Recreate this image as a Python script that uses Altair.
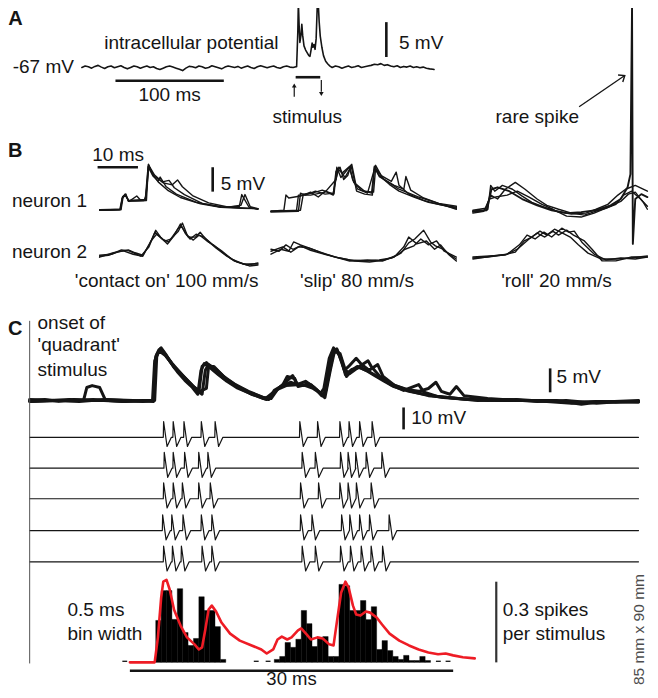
import altair as alt
import pandas as pd

# ======================= DATA =======================
# Panel A: intracellular potential, (time ms, membrane potential mV)
A_TRACE = [
    (0, -67.1), (3, -66.9), (6, -67.0), (9, -67.2), (12, -66.95), (15, -66.8), (18, -67.05), (21, -67.25),
    (24, -67.0), (27, -66.9), (30, -67.15), (33, -67.0), (36, -66.85), (39, -67.1), (42, -67.3), (45, -67.1),
    (48, -66.9), (51, -67.0), (54, -67.2), (57, -67.05), (60, -66.9), (63, -67.1), (66, -67.0), (69, -67.25),
    (72, -67.4), (75, -67.2), (78, -67.0), (81, -66.9), (84, -67.05), (87, -67.2), (90, -67.35), (93, -67.55),
    (96, -67.2), (99, -66.95), (102, -67.0), (105, -67.15), (108, -66.9), (111, -67.0), (114, -67.2),
    (117, -67.1), (120, -66.85), (123, -67.0), (126, -67.15), (129, -67.3), (132, -67.05), (135, -66.9),
    (138, -67.0), (141, -67.1), (144, -66.95), (147, -67.2), (150, -67.05), (153, -66.9), (156, -67.1),
    (159, -67.25), (162, -67.0), (165, -66.85), (168, -67.0), (171, -67.15), (174, -67.0), (177, -66.9),
    (180, -67.1), (183, -67.2), (186, -67.0), (189, -66.9), (192, -67.05), (195, -67.1), (197.5, -67.0),
    (198.2, -67.0), (199.3, -62.0), (199.8, -57.8), (200.5, -61.0), (201.2, -63.5), (202.2, -62.5),
    (203.0, -60.9), (203.8, -62.5), (205, -64.0), (206.5, -64.6), (208, -65.0), (209.5, -65.4),
    (210.5, -65.5), (211.5, -64.6), (212.5, -63.6), (213.3, -64.2), (214.2, -63.8), (215.2, -64.5),
    (216.2, -63.0), (217.2, -58.5), (218, -57.4), (219, -60.5), (220, -62.6), (221.5, -64.2),
    (223, -65.4), (225, -66.2), (227, -66.6), (229, -66.9), (231, -67.1),
    (234, -66.9), (237, -67.0), (240, -67.2), (243, -67.05), (246, -66.9), (249, -67.1), (252, -67.0),
    (255, -66.85), (258, -67.1), (261, -67.0), (264, -66.9), (267, -66.8), (270, -66.65), (273, -66.7),
    (276, -66.55), (279, -66.8), (282, -66.7), (285, -66.9), (288, -67.0), (291, -66.85), (294, -67.1),
    (297, -66.95), (300, -67.05), (303, -66.9), (306, -67.1), (309, -67.0), (312, -67.15), (315, -67.05),
    (318, -67.2), (321, -67.3), (324, -67.35), (325, -67.4)]

# Panel B, 'contact on' 100 mm/s (time ms, mV relative to rest)
B1_N1 = [
    [(0, 0), (5, 0.1), (5.6, 2.5), (6.3, 3.3), (7.1, 2.0), (9, 1.9), (11, 2.0), (11.5, 3), (12.1, 9.4),
     (13, 7.5), (14.5, 5.8), (17, 4.0), (20, 2.6), (25, 1.3), (30, 0.6), (35, 0.4), (39.2, 0.3)],
    [(0, 0.1), (5.2, 0.2), (5.7, 2.8), (6.4, 3.2), (7.3, 1.8), (9.2, 2.9), (10, 2.2), (11.3, 2.1),
     (12.0, 8.9), (13.2, 7.0), (14.5, 6.0), (15.0, 6.8), (16.5, 4.8), (19, 3.3), (24, 1.6), (30, 0.7),
     (39.2, 0.3)],
    [(0, 0), (5.3, 0.1), (5.8, 2.6), (6.3, 3.1), (7.2, 2.0), (11.4, 2.2), (12.2, 9.0), (13.5, 7.0),
     (15.5, 5.8), (17.2, 6.1), (18.5, 4.6), (21, 3.2), (25.4, 1.4), (30.2, 0.6), (34.6, 0.8), (35.2, 3.2),
     (37, 0.6), (39.2, 0.2)],
    [(0, 0), (5.2, 0.2), (5.6, 2.4), (6.5, 3.3), (7.1, 1.8), (11.6, 2.0), (12.1, 9.3), (13.6, 7.2),
     (15.8, 5.6), (18.0, 5.2), (19.3, 6.2), (20.5, 4.8), (23, 3.0), (27, 1.5), (32, 0.6), (35.0, 1.0),
     (36.0, 3.2), (37.3, 0.7), (39.2, 0.3)]]
B1_N2 = [
    [(0, -0.1), (2.2, 0.1), (4.6, 0.8), (7.1, 1.2), (8.8, 0.6), (10.7, 0.1), (12.4, 2.4), (13.9, 5.2),
     (15.1, 3.8), (16.8, 2.4), (18.5, 4.2), (20, 6.5), (21.2, 4.6), (22.4, 3.4), (23.9, 4.4), (25.1, 4.0),
     (26.6, 3.0), (28.5, 2.0), (31, 0.3), (33.4, -1.1), (36.6, -1.9), (39.2, -1.5)],
    [(0, 0.1), (2.9, 0.3), (5.4, 1.2), (7.3, 1.0), (10.2, -0.1), (12.2, 1.8), (13.7, 4.8), (15.6, 3.4),
     (17.1, 2.8), (19.3, 5.4), (20.2, 6.1), (22, 3.8), (23.7, 3.8), (24.9, 4.8), (26.3, 3.4), (28.8, 1.6),
     (31.5, -0.1), (34.1, -1.3), (37.1, -2.1), (39.2, -1.9)],
    [(0, -0.3), (3.4, 0.6), (5.9, 1.0), (8.3, 0.3), (10.7, -0.1), (12.7, 3.0), (14.1, 4.4), (16.1, 3.0),
     (17.6, 3.4), (19.5, 5.0), (20.5, 6.7), (21.7, 4.2), (23.2, 3.2), (24.6, 4.2), (25.9, 3.8), (27.8, 2.4),
     (30.2, 1.0), (32.7, -0.7), (35.6, -1.7), (39.2, -1.7)]]

# Panel B, 'slip' 80 mm/s
B2_N1 = [
    [(0, 0), (3.2, 0.2), (3.7, 3.3), (4.4, 2.7), (7.3, 3.1), (9.8, 3.9), (11.7, 2.9), (13.4, 4.1),
     (15.4, 3.3), (16.1, 8.2), (17.1, 9.0), (18, 6.5), (19, 7.3), (19.8, 9.4), (20.5, 6.9), (21.2, 4.1),
     (23.2, 3.5), (25.1, 3.3), (25.6, 9.2), (26.8, 7.3), (29.3, 5.5), (31.7, 4.1), (35.4, 2.9), (39, 1.8),
     (42.7, 1.2), (45.9, 0.8)],
    [(0, -0.2), (6.8, 0), (7.3, 3.7), (8.5, 3.3), (11, 4.1), (13.4, 3.5), (15.4, 3.7), (16.6, 8.6),
     (17.6, 7.8), (19.5, 9.2), (20.2, 6.5), (21.5, 4.5), (23.9, 3.7), (25.9, 9.4), (27.3, 7.3), (29.8, 6.1),
     (31, 8.0), (31.7, 5.3), (34.1, 3.5), (37.8, 2.2), (41.5, 1.4), (45.9, 0.6)],
    [(0, 0), (7.3, 0.2), (8, 3.5), (10.2, 3.7), (12.7, 4.3), (15.6, 3.5), (16.3, 9.0), (17.3, 6.9),
     (20, 9.6), (21, 5.5), (22.4, 4.3), (24.9, 3.7), (25.6, 9.0), (26.8, 7.1), (30.5, 5.3), (32.9, 4.5),
     (33.4, 7.1), (34.6, 4.3), (37.8, 2.7), (41.5, 1.6), (45.9, 1.0)],
    [(0, 0), (6.3, 0), (6.8, 3.3), (9.8, 3.3), (13.4, 3.9), (16.1, 6.5), (16.8, 9.0), (18.3, 6.9),
     (19.5, 8.6), (20.5, 5.9), (23.2, 4.1), (25.4, 3.9), (25.9, 8.8), (28, 6.5), (31.7, 4.5), (36.6, 2.9),
     (41.5, 1.6), (45.9, 0.4)]]
B2_N2 = [
    [(0, 2.4), (2, 2.0), (3.7, 3.3), (5.4, 2.4), (7.3, 3.1), (9.8, 2.2), (12.2, 1.6), (15.9, 0.8),
     (19.5, 0.2), (23.2, 0), (26.8, 0.2), (29.8, 0.6), (32.2, 1.6), (34.1, 3.7), (35.6, 4.5), (37.8, 6.3),
     (39.5, 3.9), (40.7, 3.1), (42.7, 2.4), (44.4, 1.2), (45.9, 0.4)],
    [(0, 1.4), (2.4, 2.4), (4.4, 2.0), (5.6, 3.9), (7.3, 3.3), (10.2, 2.4), (13.4, 1.4), (17.1, 0.6),
     (20.7, 0), (24.4, -0.2), (28, 0.2), (30.5, 0.8), (32.9, 2.9), (34.1, 4.9), (36.1, 3.5), (38.5, 4.1),
     (40.5, 2.4), (42, 3.3), (43.9, 1.4), (45.9, 0)],
    [(0, 2.0), (2.9, 2.9), (4.9, 1.8), (6.8, 2.9), (9.3, 2.7), (12.2, 1.8), (15.9, 0.8), (19.5, 0),
     (23.9, 0.2), (27.6, 0), (31.2, 1.2), (33.2, 2.4), (35.4, 3.1), (37.1, 4.5), (39, 3.3), (41, 4.1),
     (42.9, 2.0), (45.9, 0.8)]]

# Panel B, 'roll' 20 mm/s (last trial of neuron 1 carries the rare spike)
B3_N1 = [
    [(0, 0), (2, 0.2), (3.7, 0.6), (4.4, 5.5), (5.4, 4.3), (7.3, 5.5), (9.8, 4.7), (12.2, 3.3), (14.6, 2.0),
     (17.8, 1.0), (20.7, 0.2), (24.4, -0.4), (28, -0.2), (30.5, 0.6), (33.4, 1.6), (35.9, 3.5), (37.8, 4.7),
     (40.2, 5.5), (43.2, 4.3)],
    [(0, 0.4), (3.2, 0.8), (4.4, 3.5), (6.1, 2.7), (8, 4.7), (10.5, 6.1), (12.9, 4.7), (15.9, 2.7),
     (18.3, 1.4), (21.2, 0.6), (24.4, -0.2), (27.6, -0.6), (30.5, 0.2), (32.9, 0.8), (35.4, 1.6), (37.3, 3.5),
     (39.3, 4.3), (41.5, 2.7), (43.2, 1.2)],
    [(0, -0.2), (2.7, 0.2), (4.1, 2.7), (5.6, 3.1), (8.5, 3.5), (11, 4.3), (13.9, 3.1), (17.1, 1.6),
     (19.8, 0.6), (23.2, -0.8), (26.8, -1.0), (30, -0.2), (33.4, 1.0), (36.6, 2.2), (38.5, 3.7), (40.2, 4.1),
     (42.2, 2.0), (43.2, 0.6)],
    [(0, 0.2), (3.4, 0.4), (4.6, 4.7), (6.1, 5.1), (9, 4.3), (12.2, 2.7), (15.9, 1.4), (19.5, 0.4),
     (23.2, -0.2), (26.8, 0), (30.5, 0.4), (34.1, 1.4), (36.6, 2.7), (38.3, 5.1), (39.0, 7.8), (39.4, 42.2),
     (39.6, -6.5), (40.2, 2.7), (41.7, 3.7), (43.2, 3.1)]]
B3_N2 = [
    [(0, 0), (3.7, 0.2), (7.3, 0.6), (10.5, 1.2), (12.7, 3.5), (14.6, 4.3), (16.6, 5.5), (18.3, 4.7),
     (20.2, 5.9), (22.2, 5.1), (24.1, 4.3), (26.1, 2.7), (28.5, 1.0), (31.7, -0.2), (35.4, -0.2), (39, 0),
     (43.2, 0.4)],
    [(0, -0.2), (4.9, 0.4), (8.5, 0.8), (11.5, 2.7), (13.4, 4.7), (15.4, 3.9), (17.6, 5.3), (19.5, 4.3),
     (22, 6.1), (23.7, 5.3), (25.1, 5.5), (27.1, 3.1), (30, 0.8), (32.9, -0.4), (36.6, 0), (40.2, -0.2),
     (43.2, 0.2)],
    [(0, 0.2), (4.1, 0.4), (8, 0.6), (11, 1.8), (13.9, 3.9), (15.9, 5.1), (17.8, 4.3), (19.8, 5.5),
     (21.2, 4.7), (23.2, 5.7), (24.9, 4.7), (27.6, 3.5), (29.5, 1.8), (32, -0.6), (35.4, -0.6), (39.3, 0.2),
     (43.2, 0.2)]]

# Panel C: membrane potential after the onset of the 'quadrant' stimulus (ms, mV rel.)
C_TOP = [
    [(0, 0), (1.4, 0.2), (2.7, -0.2), (4.1, 0.2), (5.5, 0), (6.9, 0), (8.7, -0.2), (10.5, 0), (11.5, 0),
     (11.7, 8.8), (12.1, 10.8), (12.5, 9.8), (13.1, 7.9), (13.7, 6.0), (14.4, 4.2), (15.1, 2.7), (15.6, 1.3),
     (15.9, 6.3), (16.2, 7.7), (16.7, 6.9), (17.5, 5.4), (18.3, 4.0), (19.2, 2.7), (20.4, 1.5), (21.7, 0.4),
     (22.2, 0.2), (22.7, 2.1), (23.3, 2.9), (24.2, 3.8), (25.1, 3.1), (26.1, 3.3), (26.8, 1.9), (27.3, 0.8),
     (27.7, 4.6), (28.2, 10.2), (28.5, 10.8), (29, 7.9), (29.4, 5.0), (29.9, 6.3), (30.4, 7.1), (31.2, 6.3),
     (32, 5.2), (32.9, 4.0), (33.8, 2.9), (35.2, 1.9), (36.6, 1.3), (38.4, 0.6), (40.7, 0.2), (43.4, 0),
     (46.2, 0), (48.9, -0.2), (50.7, -0.4), (52.6, -0.2), (54.4, -0.4), (56.5, -0.2)],
    [(0, -0.2), (1.8, 0), (3.7, 0.2), (5, 0), (5.3, 2.7), (5.8, 3.1), (6.5, 2.7), (7, 0.2), (8.7, 0),
     (10.5, -0.2), (11.6, 0), (11.8, 9.6), (12.2, 11), (12.7, 9.4), (13.4, 6.9), (14.4, 4.6), (15.3, 2.5),
     (16, 1.3), (16.3, 6.3), (16.6, 7.5), (17.3, 6.5), (18.2, 4.6), (19.3, 2.9), (20.6, 1.5), (21.9, 0.4),
     (22.6, 1.7), (23.5, 3.3), (23.9, 5.0), (24.6, 4.6), (24.9, 2.9), (25.9, 3.5), (26.6, 2.3), (27.4, 0.6),
     (27.9, 6.3), (28.3, 10.4), (28.8, 9.8), (29.3, 6.3), (29.7, 5.6), (30.6, 7.1), (31.4, 8.3), (31.7, 7.1),
     (32.5, 5.0), (33.5, 3.3), (34.7, 2.1), (36.1, 3.3), (36.6, 1.7), (37.9, 0.8), (39.8, 0.4), (42.5, 0),
     (45.2, 0.2), (48, -0.2), (50.3, -0.6), (53, -0.2), (56.5, -0.4)],
    [(0, 0.2), (2.3, 0), (4.6, -0.2), (6.9, 0.2), (9.6, 0), (11.5, -0.2), (11.7, 9.2), (12, 10.6),
     (12.4, 10.2), (13.3, 7.5), (14.2, 5.2), (15.1, 3.1), (15.8, 1.9), (16.4, 2.5), (16.6, 7.1), (17.1, 7.1),
     (18, 5.0), (19.1, 3.3), (20.3, 1.9), (21.7, 0.6), (22.4, 0.4), (23, 2.3), (23.8, 3.1), (24.8, 3.3),
     (25.6, 4.0), (26.4, 2.7), (27.1, 1.0), (27.5, 2.1), (28, 9.2), (28.5, 10.6), (28.9, 8.8), (29.3, 5.4),
     (29.9, 6.5), (30.6, 6.9), (31.5, 6.0), (32.6, 4.6), (33.7, 3.3), (35, 2.3), (36.1, 1.9), (37, 2.5),
     (37.7, 3.8), (38.2, 1.9), (39, 1.3), (39.6, 2.9), (40.3, 1.0), (42.5, 0.4), (45.2, 0), (48.9, 0),
     (51.2, -0.8), (52.6, -0.4), (56.5, 0)],
    [(0, -0.2), (3.2, 0), (5.9, 0.2), (8.7, -0.2), (11.4, 0), (11.6, 8.3), (12, 10.4), (12.6, 9.4),
     (13.4, 7.1), (14.4, 4.8), (15.3, 2.7), (15.7, 1.7), (16, 7.1), (16.4, 7.9), (17.1, 6.3), (18, 4.6),
     (19.2, 2.9), (20.6, 1.3), (22, 0.2), (22.8, 1.9), (23.6, 3.5), (24.4, 5.2), (24.8, 3.5), (25.6, 3.1),
     (26.3, 2.5), (27, 1.5), (27.3, 2.5), (27.8, 8.8), (28.2, 11), (28.7, 9.6), (29.2, 6.3), (29.6, 7.1),
     (30.3, 8.8), (30.8, 7.5), (31.5, 6.3), (32.3, 7.5), (32.8, 5.0), (33.9, 3.1), (35.4, 1.9), (37, 1.0),
     (38.8, 0.6), (41.6, 0), (44.3, 0.2), (47.1, -0.2), (49.8, 0), (52.6, -0.6), (54.8, -0.2), (56.5, -0.2)]]

# Panel C: extracellular spike times of five trials (ms after onset)
SPIKE_TIMES = [
    [12.43, 13.32, 14.32, 15.93, 17.21, 25.07, 26.72, 28.79, 29.64, 30.62, 31.78],
    [12.49, 13.32, 14.38, 15.69, 16.54, 25.29, 26.51, 28.85, 29.55, 30.26, 31.23, 32.69],
    [12.43, 13.32, 14.17, 15.69, 16.76, 25.14, 26.81, 28.79, 29.55, 30.32, 31.69],
    [12.34, 13.19, 14.23, 15.93, 16.91, 25.14, 26.2, 28.95, 29.71, 30.62, 31.54, 33.36],
    [12.43, 13.25, 14.08, 16.0, 16.91, 25.29, 26.51, 28.85, 29.77, 30.77, 31.69, 32.75]]
SPIKE_DT = [-0.03, 0.0, 0.32, 0.72]    # spike waveform (ms from peak)
SPIKE_DV = [0.0, 7.2, -4.2, 0.0]       # spike waveform (mV)
TRACE_END = 56.5

# Panel C: PSTH, 0.5 ms bins (spikes per stimulus)
HIST_START = 11.7
HIST_BIN = 0.5
HIST_VALUES = [0.156, 0.267, 0.267, 0.16, 0.274, 0.111, 0.063, 0.089, 0.244, 0.193, 0.193, 0.133, 0.011,
               0, 0, 0, 0, 0, 0, 0, 0, 0,
               0.011, 0.022, 0.074, 0.056, 0.086, 0.193, 0.144, 0.059, 0.093, 0.096, 0.022, 0.022,
               0.29, 0.285, 0.193, 0.193, 0.23, 0.159, 0.207, 0.048, 0.081, 0.044, 0.022, 0.011, 0.026,
               0.007, 0.007, 0.022, 0.007]
ZERO_MARKS = [8.6, 20.8, 21.9, 37.7, 38.6]
SMOOTH = [(9.3, 0), (10.5, 0), (11.6, 0), (11.9, 0.093), (12.2, 0.24), (12.4, 0.30), (12.7, 0.307),
          (13, 0.27), (13.4, 0.196), (14, 0.137), (14.6, 0.093), (15.3, 0.067), (15.7, 0.048), (16, 0.056),
          (16.3, 0.122), (16.6, 0.196), (16.9, 0.211), (17.3, 0.189), (17.8, 0.148), (18.6, 0.107),
          (19.5, 0.081), (20.6, 0.063), (21.5, 0.048), (22, 0.033), (22.6, 0.048), (23, 0.085), (23.4, 0.096),
          (23.9, 0.085), (24.3, 0.093), (24.9, 0.119), (25.2, 0.126), (25.7, 0.104), (26.1, 0.085),
          (26.7, 0.093), (27.2, 0.089), (27.8, 0.067), (28.2, 0.063), (28.5, 0.148), (28.9, 0.259),
          (29.3, 0.30), (29.6, 0.278), (30, 0.211), (30.3, 0.178), (30.7, 0.174), (31.2, 0.189),
          (31.6, 0.185), (32.2, 0.167), (32.7, 0.141), (33.4, 0.107), (34.3, 0.081), (35.2, 0.063),
          (36.1, 0.048), (37, 0.037), (37.9, 0.030), (38.6, 0.033), (39.3, 0.026), (40.2, 0.019), (41.3, 0.015)]

# ======================= LAYOUT (reference pixel calibration) =======================
W, H = 642, 682
FONT = "Liberation Sans"
INK = "#151515"


def X(r):
    return (r - 3) * 0.985


def Y(r):
    return (r - 8) * 0.996


def xs(origin, ppu):
    return alt.Scale(domain=[0, 10], range=[X(origin), X(origin + 10 * ppu)], nice=False, zero=False)


def ys(origin, ppu, v0=0.0):
    return alt.Scale(domain=[v0, v0 + 10], range=[Y(origin), Y(origin - 10 * ppu)], nice=False, zero=False)


def trace_df(trials):
    rows = []
    for k, tr in enumerate(trials):
        for i, (t, v) in enumerate(tr):
            rows.append({"trial": k, "i": i, "t": t, "v": v})
    return pd.DataFrame(rows)


def lines(trials, sx, sy, width=1.2, color=INK):
    return alt.Chart(trace_df(trials)).mark_line(
        color=color, strokeWidth=width, strokeJoin="round", strokeCap="round").encode(
        x=alt.X("t:Q", scale=sx, axis=None),
        y=alt.Y("v:Q", scale=sy, axis=None),
        detail="trial:N", order="i:Q")


def rules(segs, sx, sy, width=2.6, color=INK):
    df = pd.DataFrame(segs, columns=["t", "t2", "v", "v2"])
    return alt.Chart(df).mark_rule(color=color, strokeWidth=width).encode(
        x=alt.X("t:Q", scale=sx, axis=None), x2="t2:Q",
        y=alt.Y("v:Q", scale=sy, axis=None), y2="v2:Q")


def texts(items, sx, sy, align="left", size=19, weight="normal", angle=0, color=INK):
    df = pd.DataFrame(items, columns=["label", "t", "v"])
    return alt.Chart(df).mark_text(
        align=align, baseline="middle", font=FONT, fontSize=size, fontWeight=weight,
        angle=angle, color=color).encode(
        x=alt.X("t:Q", scale=sx, axis=None),
        y=alt.Y("v:Q", scale=sy, axis=None),
        text="label:N")


def points(items, sx, sy, shape, size, angle=0, filled=True, width=1.2):
    df = pd.DataFrame(items, columns=["t", "v"])
    kw = dict(shape=shape, size=size, angle=angle, filled=filled, opacity=1, strokeWidth=width)
    if filled:
        kw["fill"] = INK
    else:
        kw["stroke"] = INK
    return alt.Chart(df).mark_point(**kw).encode(
        x=alt.X("t:Q", scale=sx, axis=None),
        y=alt.Y("v:Q", scale=sy, axis=None))


layers = []

# ---------------- Panel A ----------------
sxA, syA = xs(78, 1.1), ys(67, 7.0, -67)
layers += [
    lines([A_TRACE], sxA, syA, width=1.6),
    rules([(31, 131, -69.0, -69.0), (197.3, 220, -68.5, -68.5), (281, 281, -65.6, -60.6)], sxA, syA),
    rules([(196, 196, -71.3, -69.9), (221, 221, -68.9, -70.6)], sxA, syA, width=1.2),
    points([(196, -69.7)], sxA, syA, "triangle-up", 22),
    points([(221, -70.9)], sxA, syA, "triangle-down", 22),
    texts([("intracellular potential", 101, -63.6), ("100 ms", 81, -71.1), ("stimulus", 208, -74.2)],
          sxA, syA, align="center"),
    texts([("5 mV", 292.7, -63.6)], sxA, syA),
    texts([("-67 mV", -7.3, -67.0)], sxA, syA, align="right"),
    texts([("A", -68, -60.2)], sxA, syA, size=20, weight="bold"),
]

# ---------------- Panel B ----------------
sxB1, syB1a, syB1b = xs(96, 4.1), ys(211, 4.9), ys(256.7, 4.9)
sxB2, syB2a, syB2b = xs(270, 4.1), ys(212, 4.9), ys(262, 4.9)
sxB3, syB3a, syB3b = xs(475, 4.1), ys(213, 4.9), ys(259, 4.9)
layers += [
    lines(B1_N1, sxB1, syB1a, width=1.4), lines(B1_N2, sxB1, syB1b, width=1.4),
    lines(B2_N1, sxB2, syB2a, width=1.4), lines(B2_N2, sxB2, syB2b, width=1.4),
    lines(B3_N1[:3], sxB3, syB3a, width=1.4), lines(B3_N2, sxB3, syB3b, width=1.4),
    lines(B3_N1[3:], sxB3, syB3a, width=1.9),
    rules([(-0.5, 9.5, 8.8, 8.8), (28.0, 28.0, 3.8, 8.8)], sxB1, syB1a),
    texts([("10 ms", 4.6, 11.4)], sxB1, syB1a, align="center"),
    texts([("5 mV", 30.0, 5.3), ("neuron 1", -21.7, 1.9)], sxB1, syB1a),
    texts([("B", -22.7, 12.1)], sxB1, syB1a, size=20, weight="bold"),
    texts([("neuron 2", -21.7, 0.7)], sxB1, syB1b),
    texts([("'contact on' 100 mm/s", 16.6, -5.2)], sxB1, syB1b, align="center"),
    texts([("'slip' 80 mm/s", 21.3, -4.1)], sxB2, syB2b, align="center"),
    texts([("'roll' 20 mm/s", 20.7, -4.7)], sxB3, syB3b, align="center"),
    texts([("rare spike", 5.6, 19.6)], sxB3, syB3a),
    rules([(26.3, 37.6, 21.6, 28.0)], sxB3, syB3a, width=1.3),
    points([(37.6, 28.0)], sxB3, syB3a, "M-0.8,1L0,0L0.8,1", 110, angle=56, filled=False, width=1.4),
]

# ---------------- Panel C ----------------
sxC = xs(25, 10.94)
syCt = ys(402, 4.8)
syH = ys(665, 270)
ROW_BASE = [439, 470, 500.7, 532.7, 564]
layers.append(lines(C_TOP, sxC, syCt, width=3.0))
for k, times in enumerate(SPIKE_TIMES):
    pts = [(0.0, 0.0)]
    for s in times:
        for dt, dv in zip(SPIKE_DT, SPIKE_DV):
            pts.append((s + dt, dv))
    pts.append((TRACE_END, 0.0))
    layers.append(lines([pts], sxC, ys(ROW_BASE[k], 2.2), width=1.2))

hist_df = pd.DataFrame({
    "t": [HIST_START + i * HIST_BIN for i in range(len(HIST_VALUES))],
    "t2": [HIST_START + (i + 1) * HIST_BIN for i in range(len(HIST_VALUES))],
    "v": HIST_VALUES, "z": [0.0] * len(HIST_VALUES)})
hist_df = hist_df[hist_df["v"] > 0]
layers.append(alt.Chart(hist_df).mark_bar(color="#000000", stroke="#000000", strokeWidth=0.4).encode(
    x=alt.X("t:Q", scale=sxC, axis=None), x2="t2:Q",
    y=alt.Y("v:Q", scale=syH, axis=None), y2="z:Q"))
layers += [
    rules([(m, m + 0.45, 0.004, 0.004) for m in ZERO_MARKS], sxC, syH, width=1.3),
    lines([SMOOTH], sxC, syH, width=2.6, color="#ee1c25"),
    rules([(0, 0, -0.004, 1.27)], sxC, syH, width=1.0, color="#555555"),
    rules([(43.3, 43.3, 0.0, 0.3)], sxC, syH, width=2.2, color="#333333"),
    rules([(9.3, 39.3, -0.031, -0.031)], sxC, syH, width=2.6),
    rules([(48.3, 48.3, 1.7, 6.7)], sxC, syCt),
    rules([(34.7, 34.7, 3.6, 13.6)], sxC, ys(ROW_BASE[0], 2.2)),
    texts([("5 mV", 48.9, 4.9)], sxC, syCt),
    texts([("10 mV", 35.4, 8.6)], sxC, ys(ROW_BASE[0], 2.2)),
    texts([("onset of", 0.73, 1.263), ("'quadrant'", 0.73, 1.181), ("stimulus", 0.73, 1.089),
           ("0.5 ms", 3.5, 0.193), ("bin width", 3.5, 0.104),
           ("0.3 spikes", 43.9, 0.193), ("per stimulus", 43.9, 0.104)], sxC, syH),
    texts([("30 ms", 24.3, -0.062)], sxC, syH, align="center", size=18.5),
    texts([("C", -2.0, 1.24)], sxC, syH, size=20, weight="bold"),
    texts([("85 mm x 90 mm", 56.5, 0.122)], sxC, syH, align="center", size=15.5, angle=270,
          color="#4d4d4d"),
]

chart = alt.layer(*layers).resolve_scale(x="independent", y="independent").properties(
    width=W, height=H, padding=0, autosize=alt.AutoSizeParams(type="none")
).configure_view(stroke=None)

chart.save("out.html", embed_options={"renderer": "svg", "actions": False})
